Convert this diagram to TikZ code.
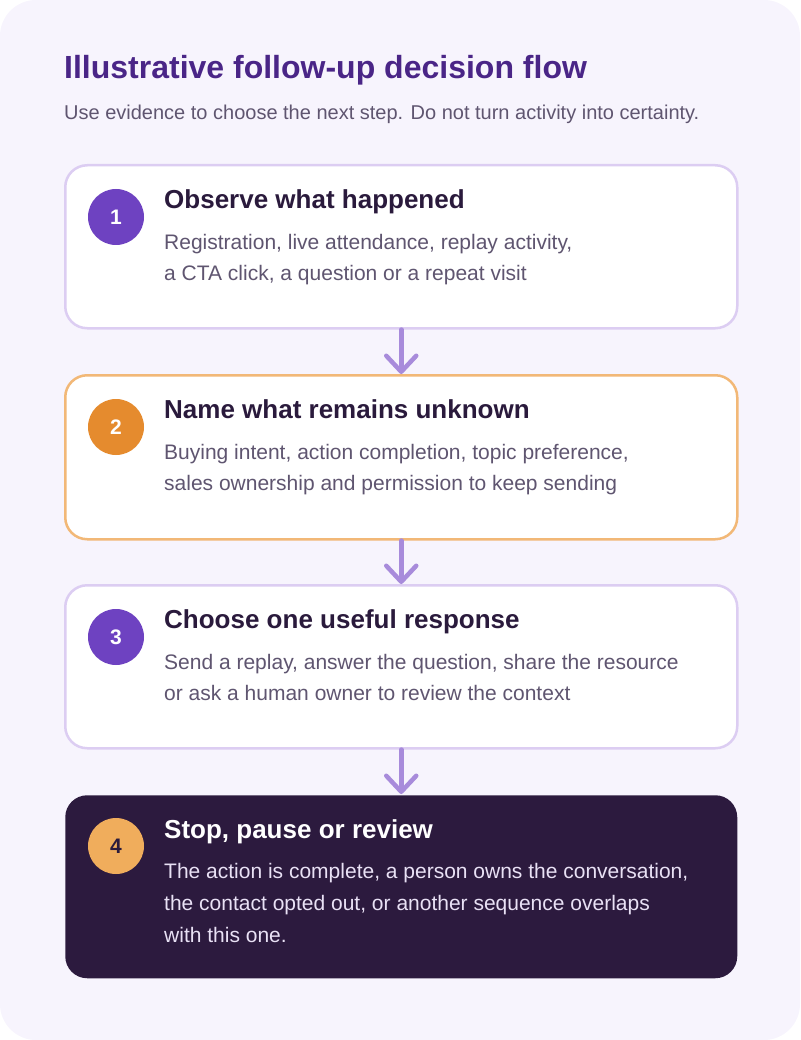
\documentclass[tikz,border=0pt]{standalone}
\usepackage{fontspec}
\setmainfont{Liberation Sans}
\usetikzlibrary{arrows.meta}
\definecolor{bgcol}{HTML}{F7F4FD}
\definecolor{lilacline}{HTML}{DCCDF2}
\definecolor{orangeline}{HTML}{F2B877}
\definecolor{purplenum}{HTML}{6E42C1}
\definecolor{orangenum}{HTML}{E58B2E}
\definecolor{lightorange}{HTML}{F0AD5C}
\definecolor{darkbox}{HTML}{2C1A3E}
\definecolor{maintitle}{HTML}{4A2587}
\definecolor{steptitle}{HTML}{2A1A3C}
\definecolor{bodycol}{HTML}{5F5570}
\definecolor{arrowcol}{HTML}{A88BDB}
\definecolor{darkbody}{HTML}{E9E1F5}
\begin{document}
\begin{tikzpicture}[x=1pt,y=-1pt,
  stepbox/.style={draw, line width=2.5pt, rounded corners=22pt, fill=white,
    minimum width=672pt, minimum height=#1, anchor=north west, inner sep=0pt},
  numdot/.style={circle, minimum size=56pt, inner sep=0pt,
    font=\bfseries\fontsize{21}{21}\selectfont},
  stitle/.style={anchor=base west, inner sep=0pt,
    font=\bfseries\fontsize{26}{26}\selectfont, text=steptitle},
  bodytext/.style={anchor=base west, inner sep=0pt,
    font=\fontsize{21}{21}\selectfont, text=bodycol},
  flow/.style={draw=arrowcol, line width=4.5pt, line cap=round,
    -{Straight Barb[length=16pt,width=30pt,line cap=round,line join=round]}}
]
\useasboundingbox (0,0) rectangle (800,1040);
\fill[bgcol, rounded corners=36pt] (0,0) rectangle (800,1040);

\node[anchor=base west, inner sep=0pt, text=maintitle,
  font=\bfseries\fontsize{32}{32}\selectfont] (title) at (64,79)
  {Illustrative follow-up decision flow};
\node[anchor=base west, inner sep=0pt, text=bodycol,
  font=\fontsize{20}{20}\selectfont] (subtitle) at (64,120)
  {Use evidence to choose the next step. Do not turn activity into certainty.};

% Box 1
\node[stepbox=163pt, draw=lilacline] (b1) at (64,164) {};
\node[numdot, fill=purplenum, text=white] (n1) at (116,217) {1};
\node[stitle] (t1) at (164,208.5) {Observe what happened};
\node[bodytext] (l1a) at (164,250) {Registration, live attendance, replay activity,};
\node[bodytext] (l1b) at (164,280.5) {a CTA click, a question or a repeat visit};

% Box 2
\node[stepbox=164pt, draw=orangeline] (b2) at (64,374) {};
\node[numdot, fill=orangenum, text=white] (n2) at (116,427) {2};
\node[stitle] (t2) at (164,418.5) {Name what remains unknown};
\node[bodytext] (l2a) at (164,459.5) {Buying intent, action completion, topic preference,};
\node[bodytext] (l2b) at (164,490.5) {sales ownership and permission to keep sending};

% Box 3
\node[stepbox=163pt, draw=lilacline] (b3) at (64,584) {};
\node[numdot, fill=purplenum, text=white] (n3) at (116,637) {3};
\node[stitle] (t3) at (164,628.5) {Choose one useful response};
\node[bodytext] (l3a) at (164,669.5) {Send a replay, answer the question, share the resource};
\node[bodytext] (l3b) at (164,700.5) {or ask a human owner to review the context};

% Box 4
\node[stepbox=183pt, draw=none, fill=darkbox] (b4) at (64,794) {};
\node[numdot, fill=lightorange, text=steptitle] (n4) at (116,846) {4};
\node[stitle, text=white] (t4) at (164,838) {Stop, pause or review};
\node[bodytext, text=darkbody] (l4a) at (164,878) {The action is complete, a person owns the conversation,};
\node[bodytext, text=darkbody] (l4b) at (164,910) {the contact opted out, or another sequence overlaps};
\node[bodytext, text=darkbody] (l4c) at (164,942) {with this one.};

% Arrows
\draw[flow] (b1.south) -- (b2.north);
\draw[flow] (b2.south) -- (b3.north);
\draw[flow] (b3.south) -- (b4.north);
\end{tikzpicture}
\end{document}
